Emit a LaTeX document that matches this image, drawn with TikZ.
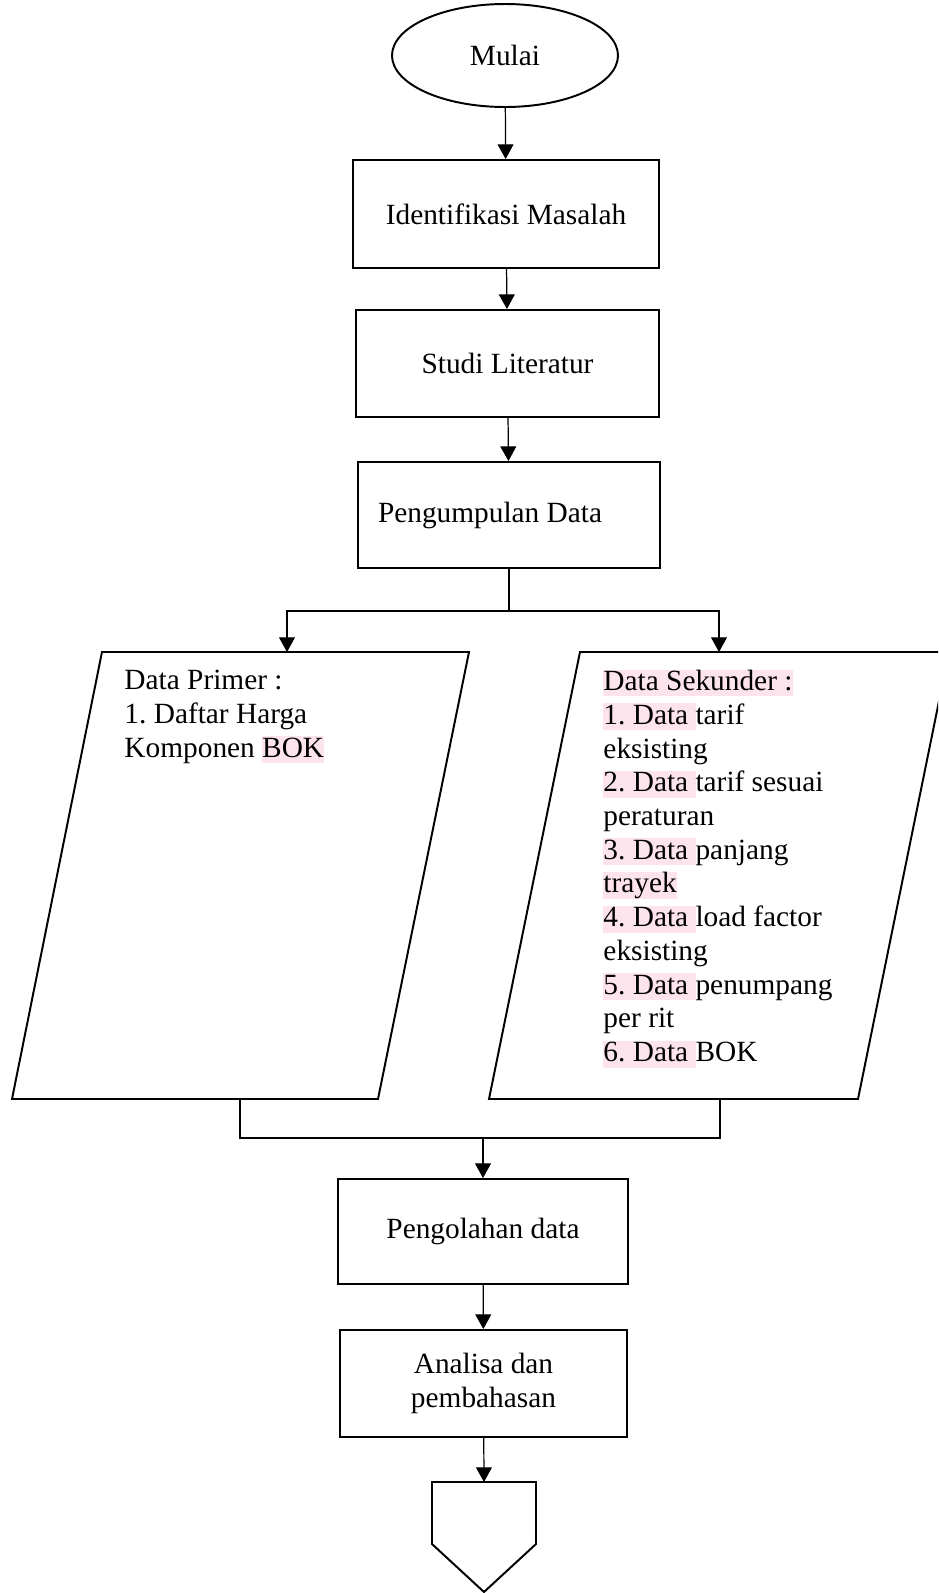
\documentclass[tikz,border=0pt]{standalone}
\usepackage{fontspec}
\setmainfont{Liberation Serif}
\usetikzlibrary{shapes.geometric,arrows.meta}
\definecolor{hlpink}{RGB}{253,228,236}
\newcommand{\px}{0.409pt}
\newcommand{\sorot}[1]{%
  {\fboxsep=0pt\colorbox{hlpink}{\rule[-2.4pt]{0pt}{11pt}#1}}}
\frenchspacing
\tikzset{
  proses/.style 2 args={draw,line width=0.8pt,minimum width=#1*\px,minimum height=#2*\px},
  tepi/.style={line width=0.8pt},
  hubung/.style={line width=0.5pt},
  garis/.style={hubung,-{Triangle[length=6pt,width=6.5pt]}}
}

\begin{document}
\begin{tikzpicture}[x=\px,y=-\px,font=\fontsize{12pt}{13.8pt}\selectfont]
	\useasboundingbox (0,0) rectangle (938,1593);
	\clip (0,0) rectangle (938,1593);
	%ALUR ATAS
	\node[draw,ellipse,tepi,minimum width=226*\px,minimum height=103*\px] (mulai) at (505,55.5) {Mulai};
	\node[proses={306}{108}] (identifikasi) at (506,214) {Identifikasi Masalah};
	\node[proses={303}{107}] (studi) at (507.5,363.5) {Studi Literatur};
	\node[proses={302}{106}] (kumpul) at (509,515) {Pengumpulan Data\hspace*{15.5pt}};
	\draw[garis] (mulai) -- (identifikasi);
	\draw[garis] (identifikasi) -- (studi);
	\draw[garis] (studi) -- (kumpul);
	%DATA
	\coordinate (cabang) at (509,611);
	\coordinate (primer-in) at (287,652);
	\coordinate (sekunder-in) at (719,652);
	\coordinate (primer-out) at (240,1099);
	\coordinate (sekunder-out) at (720,1099);
	\draw[tepi] (102,652) -- (469,652) -- (378,1099) -- (12,1099) -- cycle;
	\draw[tepi] (580,652) -- (949,652) -- (858,1099) -- (489,1099) -- cycle;
	\node[anchor=north west,align=left,inner sep=0] (primer) at (124,670) {Data Primer :\\1. Daftar Harga\\Komponen \sorot{BOK}};
	\node[anchor=north west,align=left,inner sep=0] (sekunder) at (603,669) {\sorot{Data Sekunder :}\\
		\sorot{1. Data\ }tarif\\eksisting\\
		\sorot{2. Data\ }tarif sesuai\\peraturan\\
		\sorot{3. Data\ }panjang\\\sorot{trayek}\\
		\sorot{4. Data\ }load factor\\eksisting\\
		\sorot{5. Data\ }penumpang\\per rit\\
		\sorot{6. Data\ }BOK};
	\draw[hubung] (kumpul) -- (cabang);
	\draw[garis] (cabang) -| (primer-in);
	\draw[garis] (cabang) -| (sekunder-in);
	%ALUR BAWAH
	\coordinate (gabung) at (483,1138);
	\draw[hubung] (primer-out) |- (gabung) -| (sekunder-out);
	\node[proses={290}{105}] (olah) at (483,1231.5) {Pengolahan data};
	\node[proses={287}{107},align=center] (analisa) at (483.5,1383.5) {Analisa dan\\pembahasan};
	\draw[garis] (gabung) -- (olah);
	\draw[garis] (olah) -- (analisa);
	%KONEKTOR
	\coordinate (konektor) at (484,1482);
	\draw[tepi] (432,1482) -- (536,1482) -- (536,1544) -- (484,1592) -- (432,1544) -- cycle;
	\draw[garis] (analisa) -- (konektor);
\end{tikzpicture}
\end{document}
